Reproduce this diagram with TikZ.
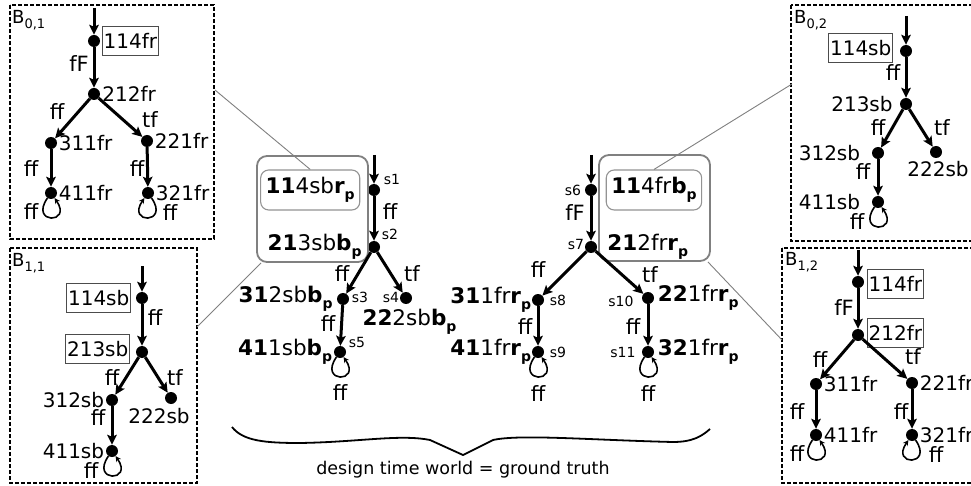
\documentclass[tikz,border=0pt]{standalone}
\usepackage{fontspec}
\setmainfont{DejaVu Sans}
\usetikzlibrary{arrows.meta,positioning,fit}
\newcommand{\rpsub}[1]{\textbf{#1}\raisebox{-0.3em}{\fontsize{14}{14}\selectfont\bfseries p}}
\newcommand{\boxname}[1]{B\raisebox{-0.3em}{\fontsize{13}{13}\selectfont #1}}
\tikzset{
  dot/.style={circle, fill=black, inner sep=0pt, minimum size=12pt},
  arr/.style={-{Stealth[length=10pt,width=9.5pt,inset=2pt]}, line width=3pt},
  lp/.style={-{Stealth[length=5.5pt,width=5.5pt]}, line width=1.6pt},
  lbl/.style={inner sep=1.5pt, font=\fontsize{20}{22}\selectfont},
  blbl/.style={lbl, draw=black!70, line width=0.9pt, minimum height=29pt, inner xsep=1.5pt},
  elbl/.style={inner sep=1pt, font=\fontsize{21}{22}\selectfont},
  slbl/.style={inner sep=1pt, font=\fontsize{14}{15}\selectfont},
  clbl/.style={inner sep=1.5pt, font=\fontsize{21.5}{23}\selectfont},
  rlbl/.style={clbl, draw=gray!85, rounded corners=8pt, line width=1.1pt, minimum height=40pt, inner xsep=5pt},
  grp/.style={draw=gray, rounded corners=10pt, line width=1.8pt, inner sep=0pt},
  dbox/.style={draw, dash pattern=on 4pt off 2pt, line width=2pt},
  zl/.style={draw=gray, line width=0.9pt},
  bname/.style={inner sep=0pt, font=\fontsize{18}{20}\selectfont, anchor=north west},
  brc/.style={line width=1.8pt},
  caption/.style={inner sep=1pt, font=\fontsize{17.5}{19}\selectfont},
  lpl/.style={out=-125, in=-55, min distance=32pt},
  lpr/.style={out=-55, in=-125, min distance=32pt}
}
\begin{document}
\begin{tikzpicture}[x=1pt,y=-1pt]
\useasboundingbox (0,0) rectangle (971,486);
\clip (0,0) rectangle (971,486);
\fill[white] (0,0) rectangle (971,486);

% ---------------- B_{0,1}
\draw[dbox] (10,5) rectangle (214,239);
\node[bname] (BN1) at (12,10) {\boxname{0,1}};
\node[dot] (a1) at (94,41) {};
\node[dot] (a2) at (94,94) {};
\node[dot] (a3) at (51,143) {};
\node[dot] (a4) at (147,141) {};
\node[dot] (a5) at (51,193) {};
\node[dot] (a6) at (148,193) {};
\node[blbl, right=1.5pt of a1] (ta1) {114fr};
\node[lbl, right=0.5pt of a2] (ta2) {212fr};
\node[lbl, right=0pt of a3] (ta3) {311fr};
\node[lbl, right=0pt of a4] (ta4) {221fr};
\node[lbl, right=0pt of a5] (ta5) {411fr};
\node[lbl, right=0pt of a6] (ta6) {321fr};
\coordinate (ia) at (94,8);
\draw[arr] (ia) -- (a1);
\draw[arr] (a1) -- node[elbl, xshift=-15pt, yshift=3.5pt] (ea1) {fF} (a2);
\draw[arr] (a2) -- node[elbl, xshift=-15.5pt, yshift=6.5pt] (ea2) {ff} (a3);
\draw[arr] (a2) -- node[elbl, xshift=29.5pt, yshift=-2.5pt] (ea3) {tf} (a4);
\draw[arr] (a3) -- node[elbl, xshift=-20pt, yshift=-1pt] (ea4) {ff} (a5);
\draw[arr] (a4) -- node[elbl, xshift=-10.5pt, yshift=-2pt] (ea5) {ff} (a6);
\draw[lp] (a5) to[lpl] node[elbl, xshift=-20pt, yshift=6pt] (ea6) {ff} (a5);
\draw[lp] (a6) to[lpr] node[elbl, xshift=22pt, yshift=5pt] (ea7) {ff} (a6);

% ---------------- B_{1,1}
\draw[dbox] (10,248) rectangle (197,483);
\node[bname] (BN2) at (12,253) {\boxname{1,1}};
\node[dot] (b1) at (142,298) {};
\node[dot] (b2) at (142,352) {};
\node[dot] (b3) at (112,400) {};
\node[dot] (b4) at (171,398) {};
\node[dot] (b5) at (112,451) {};
\node[blbl, left=4.5pt of b1] (tb1) {114sb};
\node[blbl, left=5.5pt of b2, yshift=3pt] (tb2) {213sb};
\node[lbl, left=0pt of b3] (tb3) {312sb};
\node[lbl, below=2pt of b4, xshift=-12pt] (tb4) {222sb};
\node[lbl, left=0pt of b5] (tb5) {411sb};
\coordinate (ib) at (142,266);
\draw[arr] (ib) -- (b1);
\draw[arr] (b1) -- node[elbl, xshift=13pt, yshift=7pt] (eb1) {ff} (b2);
\draw[arr] (b2) -- node[elbl, xshift=-15pt, yshift=-2pt] (eb2) {ff} (b3);
\draw[arr] (b2) -- node[elbl, xshift=18.5pt, yshift=-3pt] (eb3) {tf} (b4);
\draw[arr] (b3) -- node[elbl, xshift=-14pt, yshift=7.5pt] (eb4) {ff} (b5);
\draw[lp] (b5) to[lpl] node[elbl, xshift=-21pt, yshift=5pt] (eb5) {ff} (b5);

% ---------------- centre left
\node[dot] (s1) at (374,190) {};
\node[dot] (s2) at (374,247) {};
\node[dot] (s3) at (343,299) {};
\node[dot] (s4) at (406,298) {};
\node[dot] (s5) at (340,352) {};
\node[slbl] (ls1) at (392,179) {s1};
\node[slbl] (ls2) at (390,234) {s2};
\node[slbl] (ls3) at (360,297) {s3};
\node[slbl] (ls4) at (391,297) {s4};
\node[slbl] (ls5) at (357,342) {s5};
\node[rlbl, left=7.5pt of s1] (L1) {\textbf{11}4sb\rpsub{r}};
\node[clbl, left=4.5pt of s2] (L2) {\textbf{21}3sb\rpsub{b}};
\node[clbl, left=2.5pt of s3] (L3) {\textbf{31}2sb\rpsub{b}};
\node[clbl, below=3pt of s4, xshift=3.5pt] (L4) {\textbf{22}2sb\rpsub{b}};
\node[clbl, left=0pt of s5] (L5) {\textbf{41}1sb\rpsub{b}};
\node[grp, fit={(257,156) (368,262)}] (G1) {};
\coordinate (is1) at (374,155);
\draw[arr] (is1) -- (s1);
\draw[arr] (s1) -- node[elbl, xshift=16pt, yshift=6.5pt] (es1) {ff} (s2);
\draw[arr] (s2) -- node[elbl, xshift=-16.5pt, yshift=-1pt] (es2) {ff} (s3);
\draw[arr] (s2) -- node[elbl, xshift=22pt, yshift=-1.5pt] (es3) {tf} (s4);
\draw[arr] (s3) -- node[elbl, xshift=-13.5pt, yshift=1.5pt] (es4) {ff} (s5);
\draw[lp] (s5) to[lpl] node[elbl, yshift=-16pt] (es5) {ff} (s5);

% ---------------- centre right
\node[dot] (s6) at (591,190) {};
\node[dot] (s7) at (591,247) {};
\node[dot] (s8) at (538,300) {};
\node[dot] (s10) at (648,298) {};
\node[dot] (s9) at (538,352) {};
\node[dot] (s11) at (648,352) {};
\node[slbl] (ls6) at (573,190) {s6};
\node[slbl] (ls7) at (576,244) {s7};
\node[slbl] (ls8) at (558,300) {s8};
\node[slbl] (ls9) at (558,352) {s9};
\node[slbl] (ls10) at (621,301) {s10};
\node[slbl] (ls11) at (623,352) {s11};
\node[rlbl, right=8.5pt of s6] (R1) {\textbf{11}4fr\rpsub{b}};
\node[clbl, right=8.5pt of s7] (R2) {\textbf{21}2fr\rpsub{r}};
\node[clbl, left=-1pt of s8] (R3) {\textbf{31}1fr\rpsub{r}};
\node[clbl, left=-1pt of s9] (R4) {\textbf{41}1fr\rpsub{r}};
\node[clbl, right=2pt of s10] (R5) {\textbf{22}1fr\rpsub{r}};
\node[clbl, right=2pt of s11] (R6) {\textbf{32}1fr\rpsub{r}};
\node[grp, fit={(599,155) (710,261)}] (G2) {};
\coordinate (is6) at (591,155);
\draw[arr] (is6) -- (s6);
\draw[arr] (s6) -- node[elbl, xshift=-16pt, yshift=5.5pt] (es6) {fF} (s7);
\draw[arr] (s7) -- node[elbl, xshift=-26.5pt, yshift=3.5pt] (es7) {ff} (s8);
\draw[arr] (s7) -- node[elbl, xshift=30.5pt, yshift=-2.5pt] (es8) {tf} (s10);
\draw[arr] (s8) -- node[elbl, xshift=-13pt, yshift=-1pt] (es9) {ff} (s9);
\draw[arr] (s10) -- node[elbl, xshift=-15pt, yshift=-2pt] (es10) {ff} (s11);
\draw[lp] (s9) to[lpl] node[elbl, yshift=-17pt] (es11) {ff} (s9);
\draw[lp] (s11) to[lpl] node[elbl, yshift=-17pt] (es12) {ff} (s11);

% ---------------- B_{0,2}
\draw[dbox] (791,5) rectangle (1000,241);
\node[bname] (BN3) at (794,10) {\boxname{0,2}};
\node[dot] (c1) at (906,51) {};
\node[dot] (c2) at (906,104) {};
\node[dot] (c3) at (878,153) {};
\node[dot] (c4) at (936,152) {};
\node[dot] (c5) at (878,202) {};
\node[blbl, left=6.5pt of c1, yshift=3pt] (tc1) {114sb};
\node[lbl, left=5.5pt of c2] (tc2) {213sb};
\node[lbl, left=10pt of c3] (tc3) {312sb};
\node[lbl, below=1pt of c4, xshift=2pt] (tc4) {222sb};
\node[lbl, left=10pt of c5] (tc5) {411sb};
\coordinate (ic) at (906,16);
\draw[arr] (ic) -- (c1);
\draw[arr] (c1) -- node[elbl, xshift=-13pt, yshift=4.5pt] (ec1) {ff} (c2);
\draw[arr] (c2) -- node[elbl, xshift=-14pt, yshift=0.5pt] (ec2) {ff} (c3);
\draw[arr] (c2) -- node[elbl, xshift=21pt] (ec3) {tf} (c4);
\draw[arr] (c3) -- node[elbl, xshift=-15pt, yshift=5.5pt] (ec4) {ff} (c5);
\draw[lp] (c5) to[lpl] node[elbl, xshift=-21pt, yshift=5pt] (ec5) {ff} (c5);

% ---------------- B_{1,2}
\draw[dbox] (782,248) rectangle (1000,483);
\node[bname] (BN4) at (785,252) {\boxname{1,2}};
\node[dot] (d1) at (858,282) {};
\node[dot] (d2) at (858,335) {};
\node[dot] (d3) at (816,384) {};
\node[dot] (d4) at (912,383) {};
\node[dot] (d5) at (816,435) {};
\node[dot] (d6) at (912,435) {};
\node[blbl, right=2.5pt of d1, yshift=-2pt] (td1) {114fr};
\node[blbl, right=2.5pt of d2, yshift=2pt] (td2) {212fr};
\node[lbl, right=0pt of d3] (td3) {311fr};
\node[lbl, right=0pt of d4] (td4) {221fr};
\node[lbl, right=0pt of d5] (td5) {411fr};
\node[lbl, right=0pt of d6] (td6) {321fr};
\coordinate (id) at (858,250);
\draw[arr] (id) -- (d1);
\draw[arr] (d1) -- node[elbl, xshift=-14pt, yshift=0.5pt] (ed1) {fF} (d2);
\draw[arr] (d2) -- node[elbl, xshift=-17pt, yshift=-0.5pt] (ed2) {ff} (d3);
\draw[arr] (d2) -- node[elbl, xshift=28pt, yshift=2pt] (ed3) {tf} (d4);
\draw[arr] (d3) -- node[elbl, xshift=-19pt, yshift=-2.5pt] (ed4) {ff} (d5);
\draw[arr] (d4) -- node[elbl, xshift=-11pt, yshift=-3pt] (ed5) {ff} (d6);
\draw[lp] (d5) to[lpl] node[elbl, xshift=-19pt, yshift=6pt] (ed6) {ff} (d5);
\draw[lp] (d6) to[lpr] node[elbl, xshift=24pt, yshift=5pt] (ed7) {ff} (d6);

% ---------------- zoom lines
\coordinate (z1) at (215,90);
\coordinate (z2) at (197,327);
\coordinate (z3) at (792,84);
\coordinate (z4) at (782,340);
\draw[zl] (L1.north) -- (z1);
\draw[zl] ([xshift=5pt]G1.south west) -- (z2);
\draw[zl] (R1.north) -- (z3);
\draw[zl] ([xshift=-3pt]G2.south east) -- (z4);

% ---------------- brace
\draw[brc] (232,427) .. controls (243,441) and (265,443) .. (300,443)
  .. controls (360,442) and (400,434) .. (430,440) -- (463,455) -- (493,440)
  .. controls (520,434) and (590,440) .. (673,442)
  .. controls (693,442) and (702,436) .. (710,429);
\node[caption] (cap) at (463,470) {design time world = ground truth};
\end{tikzpicture}
\end{document}
